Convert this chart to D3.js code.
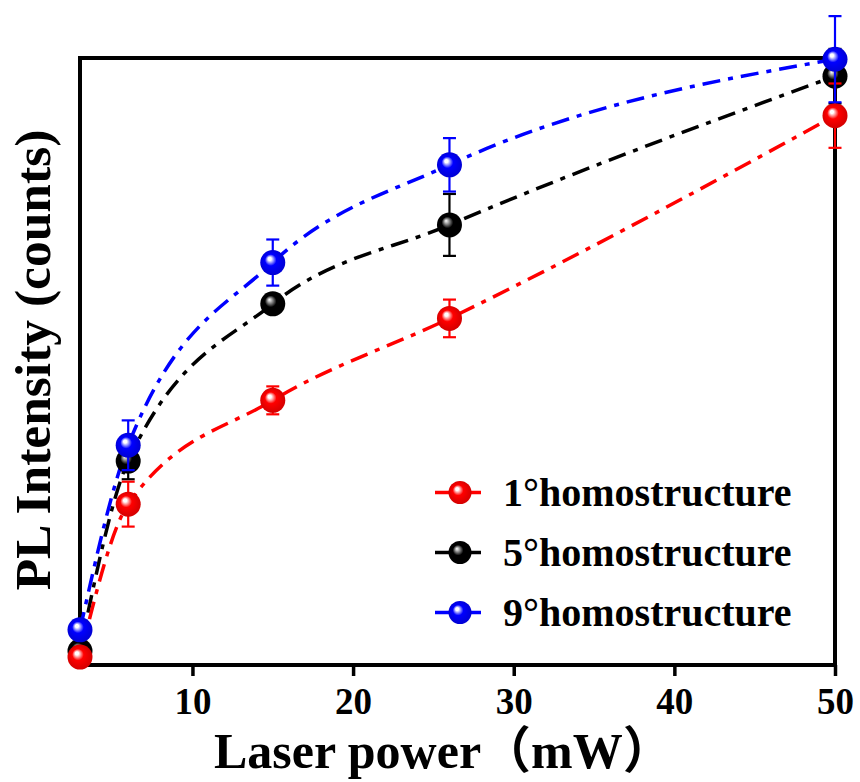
<!DOCTYPE html>
<html>
<head>
<meta charset="utf-8">
<script src="https://cdn.jsdelivr.net/npm/d3@7"></script>
<style>
html,body{margin:0;padding:0;background:#fff;}
svg{display:block;}
</style>
</head>
<body>
<svg id="chart" width="860" height="782"></svg>
<script>
// ---- data ----
const laserPower = [3, 6, 15, 26, 50];
const seriesNames = ["1°homostructure", "5°homostructure", "9°homostructure"];
const seriesColors = ["#ff0000", "#000000", "#0000ff"];
const red1 = [1.3, 26.5, 43.6, 57.1, 90.5];
const red1Err = [0.8, 3.7, 2.3, 3.1, 5.3];
const black5 = [2.3, 33.6, 59.5, 72.5, 97.0];
const black5Err = [1.0, 3.0, 1.5, 5.1, 4.5];
const blue9 = [5.8, 36.2, 66.3, 82.4, 99.8];
const blue9Err = [1.0, 4.1, 3.8, 4.4, 7.1];
const xTicks = [10, 20, 30, 40, 50];
const xTitle = "Laser power（mW）";
const yTitle = "PL Intensity (counts)";

const seriesValues = [red1, black5, blue9];
const seriesErrors = [red1Err, black5Err, blue9Err];

// ---- layout ----
const svg = d3.select("#chart");
const L = 80, R = 835, T = 58, B = 665;
const x = d3.scaleLinear().domain([3, 50]).range([L, R]);
const y = d3.scaleLinear().domain([0, 100]).range([B, T]);
const serif = "'Liberation Serif','Times New Roman',serif";

const defs = svg.append("defs");
seriesColors.forEach((c, i) => {
  const g = defs.append("radialGradient").attr("id", "ball" + i)
    .attr("cx", "0.5").attr("cy", "0.5").attr("r", "0.55")
    .attr("fx", "0.36").attr("fy", "0.33");
  const base = d3.color(c);
  const light = i === 1 ? "#bbbbbb" : "#ffffff";
  g.append("stop").attr("offset", "0").attr("stop-color", "#ffffff");
  g.append("stop").attr("offset", "0.12").attr("stop-color", light);
  g.append("stop").attr("offset", "0.42").attr("stop-color", c);
  g.append("stop").attr("offset", "1").attr("stop-color", i === 1 ? "#000" : base.darker(0.6));
});

// frame
svg.append("rect").attr("x", L).attr("y", T).attr("width", R - L).attr("height", B - T)
  .attr("fill", "none").attr("stroke", "#000").attr("stroke-width", 4);

// x axis
const xAxis = d3.axisBottom(x).tickValues(xTicks).tickSize(11).tickPadding(0).tickFormat(d3.format("d"));
const gx = svg.append("g").attr("transform", `translate(0,${B})`).call(xAxis);
gx.select(".domain").remove();
gx.selectAll(".tick line").attr("stroke", "#000").attr("stroke-width", 3.5);
gx.selectAll(".tick text").attr("font-family", serif).attr("font-weight", "bold")
  .attr("font-size", 37).attr("fill", "#000").attr("dy", null).attr("y", 49);

// titles
svg.append("text").attr("x", 214).attr("y", 768).attr("text-anchor", "start")
  .attr("font-family", serif + ",'Noto Sans CJK SC'").attr("font-weight", "bold").attr("font-size", 50)
  .attr("fill", "#000").text(xTitle);
svg.append("text").attr("transform", "translate(50,360) rotate(-90)").attr("text-anchor", "middle")
  .attr("font-family", serif).attr("font-weight", "bold").attr("font-size", 51.5)
  .attr("fill", "#000").text(yTitle);

// lines
const line = d3.line().x((d, i) => x(laserPower[i])).y(d => y(d)).curve(d3.curveMonotoneX);
const order = [1, 0, 2];
order.forEach(s => {
  svg.append("path").datum(seriesValues[s]).attr("d", line)
    .attr("fill", "none").attr("stroke", seriesColors[s]).attr("stroke-width", 3.5)
    .attr("stroke-dasharray", "18,8,5,8");
});

// error bars + markers
order.forEach(s => {
  const g = svg.append("g");
  const vals = seriesValues[s], errs = seriesErrors[s];
  vals.forEach((v, i) => {
    const cx = x(laserPower[i]);
    const y1 = y(v + errs[i]), y2 = y(v - errs[i]);
    g.append("line").attr("x1", cx).attr("x2", cx).attr("y1", y1).attr("y2", y2)
      .attr("stroke", seriesColors[s]).attr("stroke-width", 2.2);
    [y1, y2].forEach(yy => g.append("line").attr("x1", cx - 6.5).attr("x2", cx + 6.5)
      .attr("y1", yy).attr("y2", yy).attr("stroke", seriesColors[s]).attr("stroke-width", 2.2));
  });
  vals.forEach((v, i) => {
    g.append("circle").attr("cx", x(laserPower[i])).attr("cy", y(v)).attr("r", 12.5)
      .attr("fill", `url(#ball${s})`);
  });
});

// legend
const legY = [492.5, 552.5, 612.5];
seriesNames.forEach((n, i) => {
  const g = svg.append("g").attr("transform", `translate(0,${legY[i]})`);
  g.append("line").attr("x1", 435).attr("x2", 481).attr("y1", 0).attr("y2", 0)
    .attr("stroke", seriesColors[i]).attr("stroke-width", 3.5);
  g.append("circle").attr("cx", 460).attr("cy", 0).attr("r", 11.5).attr("fill", `url(#ball${i})`);
  g.append("text").attr("x", 503).attr("y", 13).attr("font-family", serif).attr("font-weight", "bold")
    .attr("font-size", 40).attr("fill", "#000").text(n);
});
</script>
</body>
</html>
